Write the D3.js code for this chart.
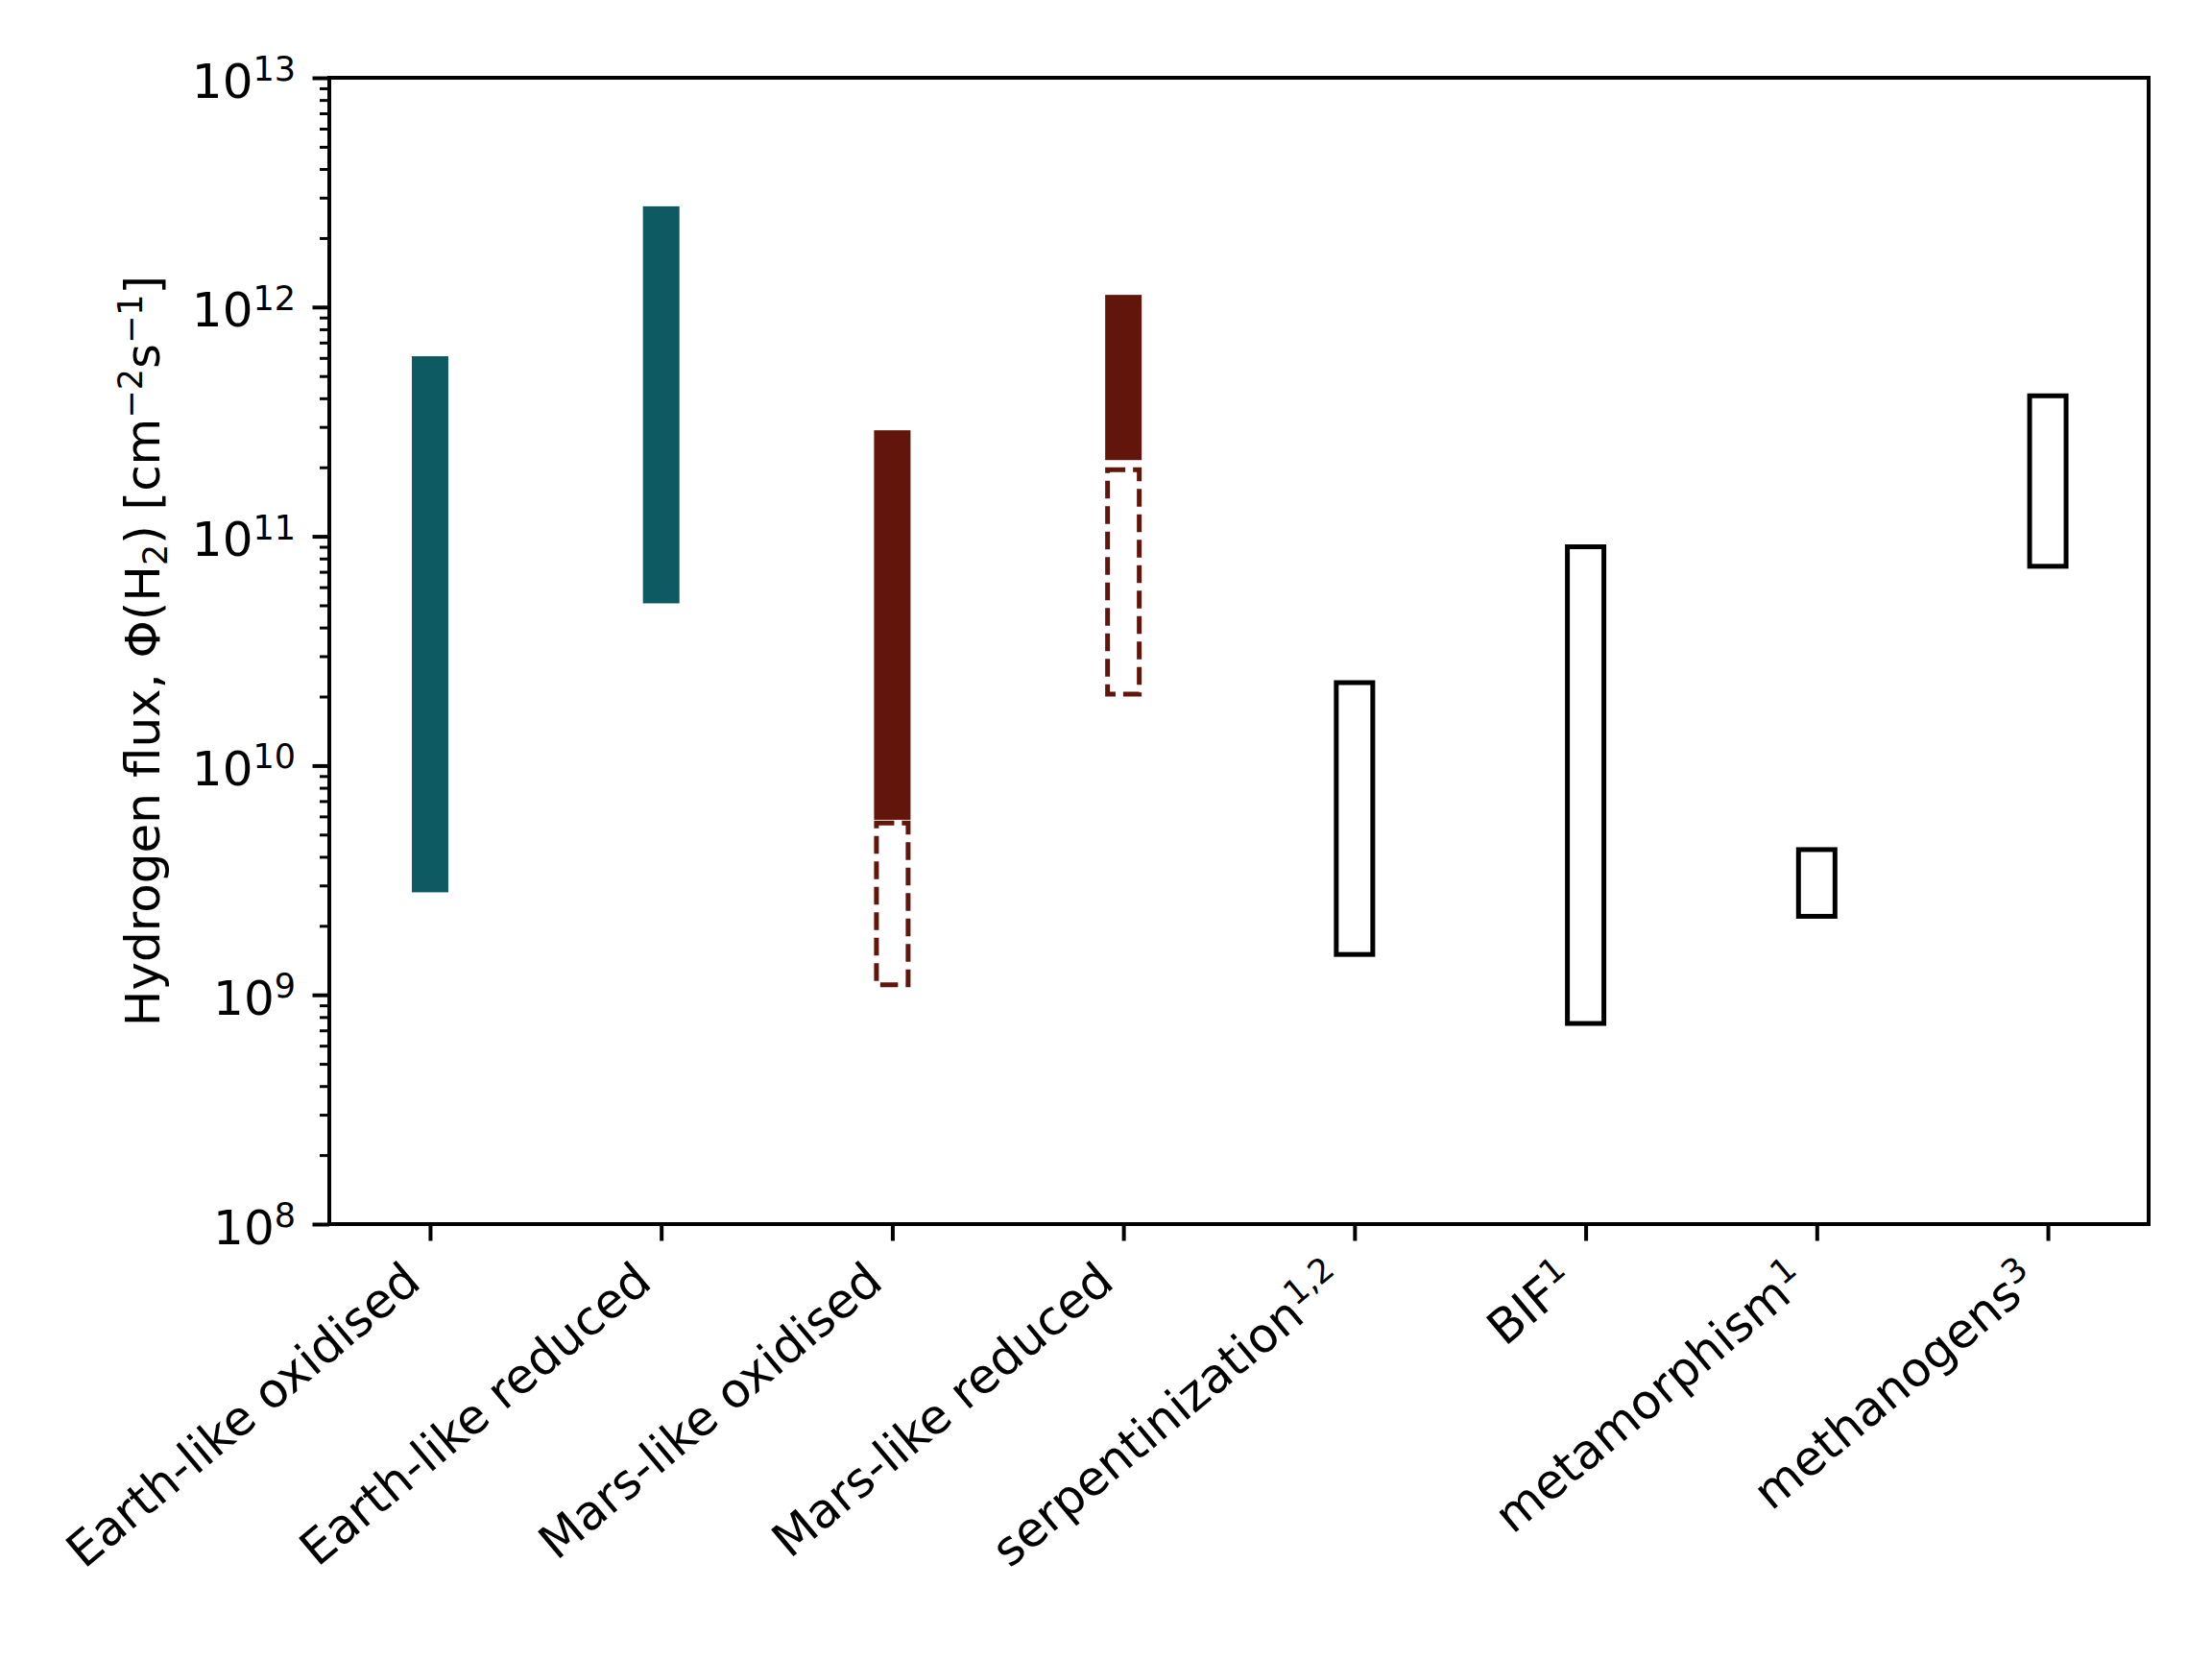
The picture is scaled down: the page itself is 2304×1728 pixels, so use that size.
<!DOCTYPE html>
<html>
  <body style="margin:0; background:white;">
    <script src="https://d3js.org/d3.v7.min.js"></script>
    <script type="text/javascript">
      const width = 2304;
      const height = 1728;
      const plotLeft = 343, plotRight = 2238, plotTop = 81, plotBottom = 1275;

      // categories and their footnote markers
      const categories = ['Earth-like oxidised', 'Earth-like reduced', 'Mars-like oxidised', 'Mars-like reduced',
        'serpentinization', 'BIF', 'metamorphism', 'methanogens'];
      const notes = ['', '', '', '', '1,2', '1', '1', '3'];

      // flux ranges, cm^-2 s^-1
      const fluxLow = [2.8e9, 5.1e10, 5.8e9, 2.15e11, 1.5e9, 7.5e8, 2.2e9, 7.4e10];
      const fluxHigh = [6.1e11, 2.75e12, 2.9e11, 1.13e12, 2.3e10, 9.0e10, 4.3e9, 4.1e11];
      const kind = ['earth', 'earth', 'mars', 'mars', 'source', 'source', 'source', 'source'];

      // extended (dashed) ranges for the Mars-like cases
      const extCategories = ['Mars-like oxidised', 'Mars-like reduced'];
      const extLow = [1.08e9, 2.0e10];
      const extHigh = [5.75e9, 2.0e11];

      const yTickExp = [8, 9, 10, 11, 12, 13];

      const colors = { earth: '#0e5a62', mars: '#62150a' };
      const barWidth = 38;
      const font = 'DejaVu Sans';

      const svg = d3.select('body')
        .append('svg')
        .attr('width', width)
        .attr('height', height)
        .style('font-family', font);

      svg.append('rect').attr('width', width).attr('height', height).attr('fill', 'white');

      const x = d3.scalePoint()
        .domain(categories)
        .range([plotLeft, plotRight])
        .padding(0.436);

      const y = d3.scaleLog()
        .domain([1e8, 1e13])
        .range([plotBottom, plotTop]);

      const rows = categories.map((c, i) => ({ c, lo: fluxLow[i], hi: fluxHigh[i], kind: kind[i] }));

      // filled model ranges
      svg.append('g')
        .selectAll('rect')
        .data(rows.filter((d) => d.kind !== 'source'))
        .join('rect')
        .attr('x', (d) => x(d.c) - barWidth / 2)
        .attr('y', (d) => y(d.hi))
        .attr('width', barWidth)
        .attr('height', (d) => y(d.lo) - y(d.hi))
        .attr('fill', (d) => colors[d.kind]);

      // dashed extensions
      svg.append('g')
        .selectAll('rect')
        .data(extCategories.map((c, i) => ({ c, lo: extLow[i], hi: extHigh[i] })))
        .join('rect')
        .attr('x', (d) => x(d.c) - barWidth / 2 + 2.5)
        .attr('y', (d) => y(d.hi) + 2.5)
        .attr('width', barWidth - 5)
        .attr('height', (d) => y(d.lo) - y(d.hi) - 5)
        .attr('fill', 'none')
        .attr('stroke', colors.mars)
        .attr('stroke-width', 5)
        .attr('stroke-dasharray', '18.5,8');

      // outlined source ranges
      svg.append('g')
        .selectAll('rect')
        .data(rows.filter((d) => d.kind === 'source'))
        .join('rect')
        .attr('x', (d) => x(d.c) - barWidth / 2)
        .attr('y', (d) => y(d.hi))
        .attr('width', barWidth)
        .attr('height', (d) => y(d.lo) - y(d.hi))
        .attr('fill', 'none')
        .attr('stroke', 'black')
        .attr('stroke-width', 5);

      // y axis, major and minor
      const minor = [];
      for (let e = 8; e < 13; e++) {
        for (let m = 2; m <= 9; m++) minor.push(m * Math.pow(10, e));
      }

      const yMinor = svg.append('g')
        .attr('transform', `translate(${plotLeft}, 0)`)
        .call(d3.axisLeft(y).tickValues(minor).tickFormat('').tickSizeInner(10).tickSizeOuter(0));
      yMinor.select('.domain').remove();
      yMinor.selectAll('line').attr('stroke-width', 3);

      const yMajor = svg.append('g')
        .attr('transform', `translate(${plotLeft}, 0)`)
        .call(d3.axisLeft(y).tickValues(yTickExp.map((e) => Math.pow(10, e))).tickFormat('').tickSizeInner(17.5).tickSizeOuter(0));
      yMajor.select('.domain').remove();
      yMajor.selectAll('line').attr('stroke-width', 4);

      const yLabels = yMajor.selectAll('.tick')
        .append('text')
        .attr('x', -35)
        .attr('y', 20)
        .attr('text-anchor', 'end')
        .attr('fill', 'black')
        .style('font-size', '50px')
        .style('font-family', font);
      yLabels.append('tspan').text('10');
      yLabels.append('tspan')
        .attr('dy', -17.6)
        .style('font-size', '35px')
        .text((d) => Math.round(Math.log10(d)));

      // x axis
      const xAxis = svg.append('g')
        .attr('transform', `translate(0, ${plotBottom})`)
        .call(d3.axisBottom(x).tickFormat('').tickSizeInner(17.5).tickSizeOuter(0));
      xAxis.select('.domain').remove();
      xAxis.selectAll('line').attr('stroke-width', 4);

      const xLabels = xAxis.selectAll('.tick')
        .append('text')
        .attr('transform', 'translate(-8, 64) rotate(-40)')
        .attr('text-anchor', 'end')
        .attr('fill', 'black')
        .style('font-size', '50px')
        .style('font-family', font);
      xLabels.append('tspan').text((d) => d);
      xLabels.append('tspan')
        .attr('dy', -17.6)
        .style('font-size', '35px')
        .text((d, i) => notes[i]);

      // frame
      svg.append('rect')
        .attr('x', plotLeft)
        .attr('y', plotTop)
        .attr('width', plotRight - plotLeft)
        .attr('height', plotBottom - plotTop)
        .attr('fill', 'none')
        .attr('stroke', 'black')
        .attr('stroke-width', 4);

      // y axis title
      const yTitle = svg.append('text')
        .attr('transform', `translate(166, ${(plotTop + plotBottom) / 2}) rotate(-90)`)
        .attr('text-anchor', 'middle')
        .style('font-size', '50px');
      yTitle.append('tspan').text('Hydrogen flux, Φ(H');
      yTitle.append('tspan').attr('dy', 8).style('font-size', '35px').text('2');
      yTitle.append('tspan').attr('dy', -8).text(') [cm');
      yTitle.append('tspan').attr('dy', -17.6).style('font-size', '35px').text('−2');
      yTitle.append('tspan').attr('dy', 17.6).text('s');
      yTitle.append('tspan').attr('dy', -17.6).style('font-size', '35px').text('−1');
      yTitle.append('tspan').attr('dy', 17.6).text(']');
    </script>
  </body>
</html>
